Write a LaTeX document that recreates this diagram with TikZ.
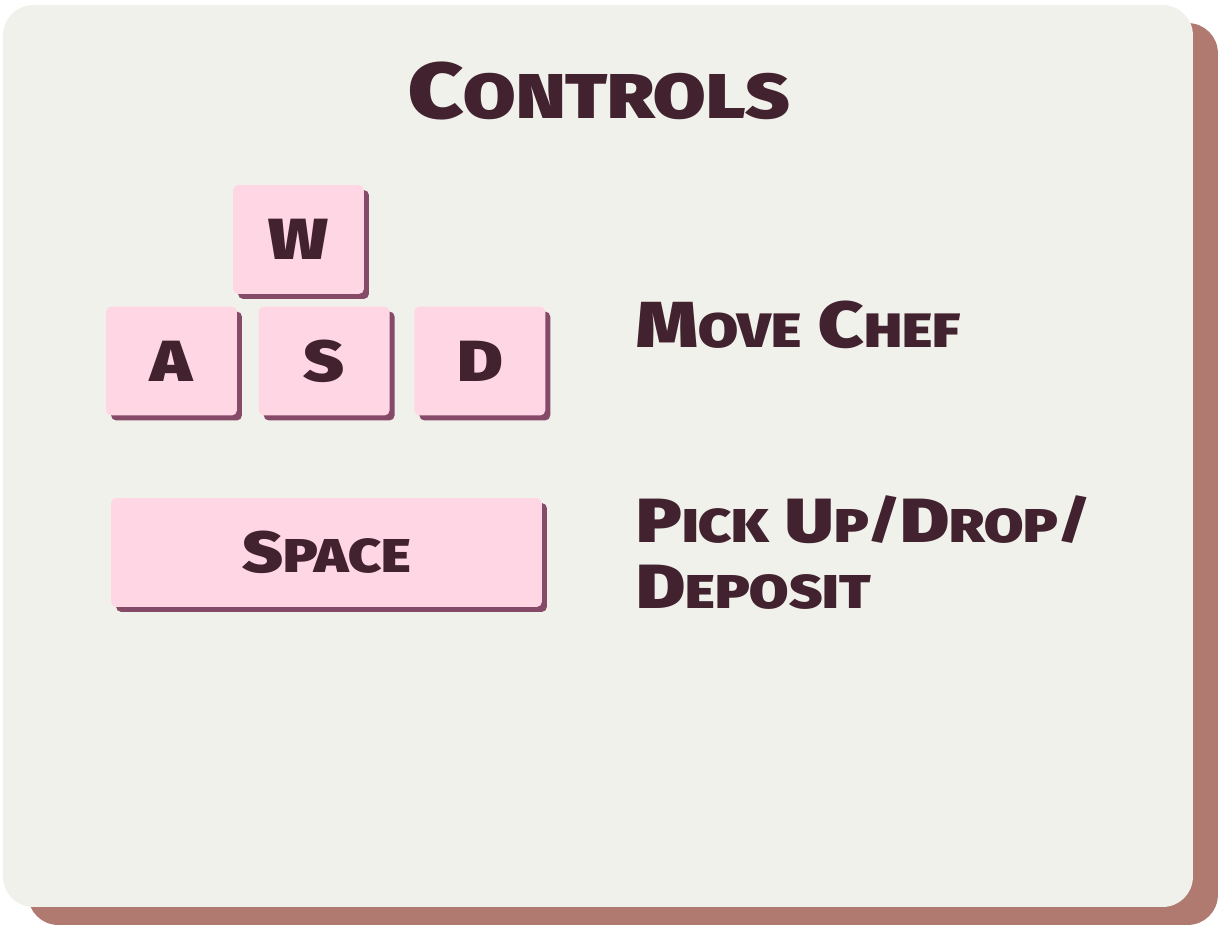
\documentclass[tikz,border=0pt]{standalone}
\usepackage{fontspec}
\setmainfont{Fira Sans}[UprightFont={* Black}, FakeStretch=1.2]
\usetikzlibrary{positioning,shadows}

\definecolor{panelbg}{HTML}{F1F1EC}
\definecolor{panelshade}{HTML}{B07A70}
\definecolor{keyfill}{HTML}{FFD6E4}
\definecolor{keyshade}{HTML}{844A68}
\definecolor{ink}{HTML}{42222F}

% smaller capitals inside a word
\newcommand\lo[2]{{\fontsize{#1}{#1}\selectfont #2}}
% slash no taller than the capitals
\newcommand\slsh{\raisebox{2.5pt}{\lo{29}{/}}}

\begin{document}
\begin{tikzpicture}[x=0.02cm,y=-0.02cm,
	panel/.style = {fill=panelbg, rounded corners=0.6cm, inner sep=0pt,
		minimum width=23.8cm, minimum height=18.04cm,
		general shadow={fill=panelshade, shadow xshift=0.5cm, shadow yshift=-0.36cm}},
	keycap/.style = {fill=keyfill, rounded corners=3pt, inner sep=0pt,
		minimum width=2.62cm, minimum height=2.18cm, text=ink,
		font=\fontsize{33}{33}\selectfont,
		general shadow={fill=keyshade, shadow xshift=0.1cm, shadow yshift=-0.1cm}},
	heading/.style = {anchor=base, inner sep=0pt, text=ink, font=\fontsize{45}{45}\selectfont},
	action/.style = {anchor=base west, inner sep=0pt, text=ink, align=left}]
	\useasboundingbox (0,0) rectangle (1224,930);
	\node[panel] (panel) at (598,456) {};
	\node[heading] (title) at (599,118) {C\lo{36}{ONTROLS}};
	
	\node[keycap] (w) at (298.5,239.5) {W};
	\node[keycap] (a) at (171.5,361) {A};
	\node[keycap] [right=0.42cm of a] (s) {S};
	\node[keycap] [right=0.48cm of s] (d) {D};
	\node[keycap, minimum width=8.62cm] (space) at (326.5,552.5) {S\lo{27}{PACE}};
	
	\node[action, font=\fontsize{37}{37}\selectfont] (move) at (636,347)
		{M\lo{27.5}{OVE} C\lo{27.5}{HEF}};
	\node[action, font=\fontsize{35.5}{37.5}\selectfont] (pick) at (636,608)
		{P\lo{27}{ICK} U\lo{27}{P}\slsh D\lo{27}{ROP}\slsh\\D\lo{27}{EPOSIT}};
\end{tikzpicture}
\end{document}
